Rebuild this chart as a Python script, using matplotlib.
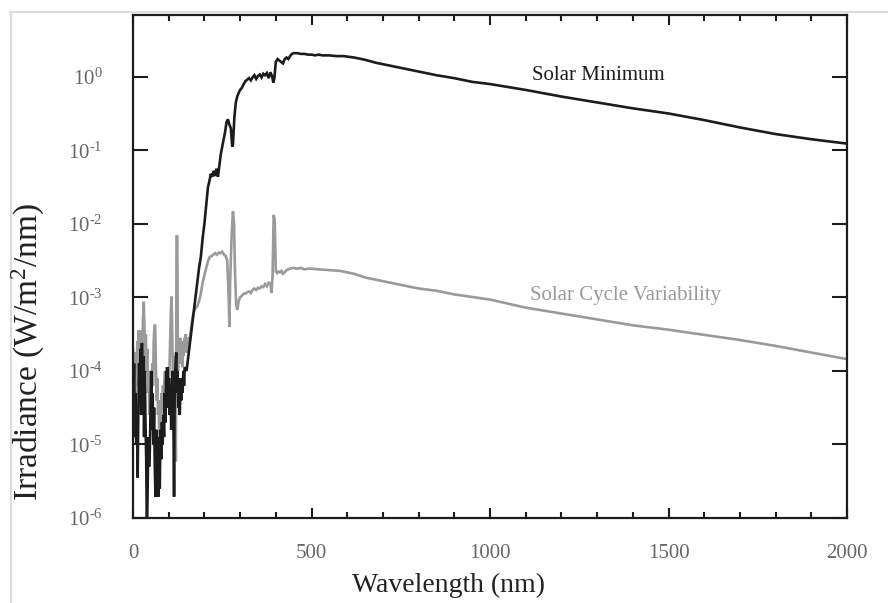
import numpy as np
import matplotlib
matplotlib.use("Agg")
import matplotlib.pyplot as plt
from matplotlib.ticker import FixedLocator, MultipleLocator, FuncFormatter
from matplotlib.lines import Line2D

# ---------------- data ----------------
# Solar Minimum: wavelength (nm) and log10 irradiance (W/m^2/nm)
min_wl = [1, 3, 5, 7, 9, 11, 13, 15, 17, 19, 21, 23, 25, 27, 29, 31, 33, 35, 37, 39,
          41, 43, 45, 47, 49, 51, 53, 55, 57, 59, 61, 63, 65, 67, 69, 71, 73, 75, 77, 79,
          81, 83, 85, 87, 89, 91, 93, 95, 97, 99, 101, 103, 105, 107, 109, 111, 113, 115,
          117, 119, 121, 123, 125, 127, 129, 131, 133, 135, 137, 139, 141, 143, 145, 150,
          155, 160, 165, 170, 175, 180, 185, 190, 195, 200, 205, 210, 214, 218, 222, 226,
          230, 234, 238, 242, 246, 250, 254, 258, 262, 266, 270, 274, 278, 280, 284, 288,
          292, 296, 300, 305, 310, 315, 320, 325, 330, 335, 340, 345, 350, 355, 360, 365,
          370, 375, 380, 385, 390, 393, 396, 400, 405, 410, 415, 420, 425, 430, 435, 440,
          445, 450, 460, 470, 480, 490, 500, 510, 520, 530, 550, 570, 590, 620, 650, 680,
          700, 750, 800, 850, 900, 950, 1000, 1100, 1200, 1300, 1400, 1500, 1600, 1700,
          1800, 1900, 2000]
min_log = [-4.4, -3.9, -4.9, -4.3, -5.0, -4.6, -5.45, -4.5, -3.9, -4.2, -3.7, -4.6, -3.62,
           -4.3, -3.8, -4.9, -4.0, -4.7, -5.2, -6.2, -5.6, -4.9, -5.3, -5.1, -4.6, -4.0,
           -4.8, -4.3, -5.0, -4.5, -5.3, -5.71, -4.8, -5.5, -4.9, -5.71, -5.0, -5.6, -4.8,
           -5.2, -4.7, -5.0, -4.6, -4.9, -4.3, -4.7, -4.0, -4.4, -3.95, -4.5, -4.1, -4.6,
           -4.2, -4.8, -4.3, -4.0, -4.5, -5.71, -4.1, -3.95, -3.75, -4.3, -4.0, -4.5, -4.1,
           -4.6, -4.2, -4.4, -4.1, -4.3, -4.0, -4.2, -3.95, -4.0, -3.8, -3.6, -3.4, -3.2,
           -3.0, -2.8, -2.6, -2.45, -2.2, -2.0, -1.75, -1.5, -1.42, -1.32, -1.36, -1.28,
           -1.35, -1.25, -1.36, -1.2, -1.05, -0.95, -0.85, -0.75, -0.62, -0.58, -0.65, -0.7,
           -0.95, -0.92, -0.55, -0.35, -0.27, -0.22, -0.18, -0.15, -0.1, -0.06, -0.04,
           -0.02, -0.05, -0.01, 0.02, -0.03, 0.01, 0.03, -0.01, 0.04, 0.02, 0.05, -0.02,
           0.06, 0.0, -0.08, -0.02, 0.2, 0.24, 0.22, 0.2, 0.18, 0.24, 0.26, 0.24, 0.28,
           0.31, 0.32, 0.32, 0.31, 0.31, 0.3, 0.30, 0.29, 0.30, 0.29, 0.29, 0.28, 0.28,
           0.26, 0.23, 0.19, 0.17, 0.12, 0.07, 0.02, -0.02, -0.07, -0.10, -0.18, -0.27,
           -0.35, -0.43, -0.50, -0.59, -0.69, -0.78, -0.85, -0.91]

# Solar Cycle Variability: wavelength (nm) and log10 irradiance (W/m^2/nm)
var_wl = [0, 2, 4, 6, 8, 10, 12, 14, 16, 18, 20, 22, 24, 26, 28, 30, 32, 34, 36, 38, 40,
          42, 44, 46, 48, 50, 52, 54, 56, 58, 60, 62, 64, 66, 68, 70, 72, 74, 76, 78, 80,
          82, 84, 86, 88, 90, 92, 94, 96, 98, 100, 102, 104, 106, 108, 110, 112, 114, 116,
          118, 120, 122, 124, 126, 128, 130, 132, 134, 136, 138, 140, 142, 144, 146, 148,
          150, 154, 158, 162, 166, 170, 175, 180, 185, 190, 195, 200, 205, 210, 215, 220,
          225, 230, 235, 240, 245, 250, 255, 260, 264, 268, 270, 272, 276, 280, 283, 286,
          289, 292, 296, 300, 305, 310, 315, 320, 325, 330, 335, 340, 345, 350, 355, 360,
          365, 370, 375, 380, 385, 388, 391, 394, 397, 400, 404, 408, 412, 416, 420, 425,
          430, 440, 450, 460, 470, 480, 490, 500, 520, 550, 580, 620, 650, 700, 750, 800,
          850, 900, 1000, 1100, 1200, 1300, 1400, 1500, 1600, 1700, 1800, 1900, 2000]
var_log = [-3.7, -4.3, -3.8, -4.4, -3.75, -4.2, -3.6, -4.0, -3.45, -3.9, -3.5, -4.1, -3.45,
           -3.8, -3.3, -3.06, -3.4, -3.8, -3.5, -4.0, -3.7, -4.3, -4.0, -4.6, -4.2, -4.8,
           -4.3, -3.9, -4.2, -3.6, -3.4, -3.37, -3.9, -4.4, -4.1, -4.6, -4.4, -5.07, -4.5,
           -4.8, -4.3, -4.6, -4.2, -4.5, -4.1, -4.0, -4.3, -3.95, -4.4, -4.1, -4.5, -4.0,
           -3.6, -3.2, -2.99, -3.5, -4.2, -3.8, -4.4, -4.0, -5.23, -2.17, -2.17, -4.0, -3.6,
           -3.9, -3.55, -3.8, -3.7, -3.95, -3.6, -3.8, -3.55, -3.7, -3.5, -3.75, -3.55,
           -3.6, -3.45, -3.3, -3.2, -3.15, -3.12, -3.05, -2.95, -2.8, -2.7, -2.6, -2.51,
           -2.45, -2.44, -2.42, -2.40, -2.42, -2.39, -2.40, -2.38, -2.42, -2.44, -2.5, -3.0,
           -3.40, -2.8, -2.2, -1.83, -2.0, -2.7, -3.1, -3.17, -3.05, -3.0, -2.98, -2.95,
           -2.95, -2.93, -2.92, -2.94, -2.9, -2.88, -2.9, -2.87, -2.88, -2.85, -2.86, -2.82,
           -2.85, -2.8, -2.81, -2.94, -2.7, -1.88, -1.95, -2.65, -2.67, -2.65, -2.66, -2.64,
           -2.68, -2.66, -2.63, -2.61, -2.60, -2.61, -2.60, -2.62, -2.61, -2.61, -2.62,
           -2.63, -2.64, -2.68, -2.73, -2.78, -2.83, -2.88, -2.91, -2.96, -3.03, -3.14,
           -3.22, -3.30, -3.38, -3.44, -3.51, -3.58, -3.66, -3.75, -3.84]

x_major = [0, 500, 1000, 1500, 2000]
y_major = [1e-6, 1e-5, 1e-4, 1e-3, 1e-2, 1e-1, 1e0]
label_min = "Solar Minimum"
label_var = "Solar Cycle Variability"
xlabel = "Wavelength (nm)"
ylabel = "Irradiance (W/m$^2$/nm)"

# ---------------- style ----------------
plt.rcParams['font.family'] = ['Liberation Serif', 'DejaVu Serif']
plt.rcParams['mathtext.fontset'] = 'custom'
plt.rcParams['mathtext.rm'] = 'Liberation Serif'
plt.rcParams['mathtext.it'] = 'Liberation Serif:italic'
plt.rcParams['mathtext.bf'] = 'Liberation Serif:bold'

W, H = 888, 603
fig = plt.figure(figsize=(W / 100, H / 100), dpi=100)
ax = fig.add_axes([133 / W, 1 - 518 / H, (847 - 133) / W, (518 - 15) / H])

black = '#1c1c1c'
gray = '#9a9a9a'

ax.plot(var_wl, 10 ** np.array(var_log), color=gray, lw=1.9, solid_joinstyle='miter', zorder=2)
ax.plot(min_wl, 10 ** np.array(min_log), color=black, lw=1.9, solid_joinstyle='miter', zorder=3)

ax.set_yscale('log')
ax.set_xlim(0, 2000)
ax.set_ylim(1e-6, 6.9)


def ylab(v, p):
    e = int(round(np.log10(v)))
    if e < 0:
        return r'$10^{\text{-}%d}$' % (-e)
    return r'$10^{%d}$' % e


ax.xaxis.set_major_locator(FixedLocator(x_major))
ax.xaxis.set_minor_locator(MultipleLocator(100))
ax.yaxis.set_major_locator(FixedLocator(y_major))
ax.yaxis.set_minor_locator(FixedLocator([]))
ax.yaxis.set_major_formatter(FuncFormatter(ylab))
ax.xaxis.set_major_formatter(FuncFormatter(lambda v, p: '%d' % v))

ax.tick_params(axis='x', which='major', direction='in', length=7.5, width=1.5,
               top=True, bottom=True, pad=19, labelsize=15, labelcolor='#666666', color=black)
ax.tick_params(axis='x', which='minor', direction='in', length=4, width=1.5,
               top=True, bottom=True, color=black)
ax.tick_params(axis='y', which='major', direction='in', length=11, width=1.5,
               left=True, right=True, pad=22, labelsize=15, labelcolor='#666666', color=black)

for s in ax.spines.values():
    s.set_linewidth(1.6)
    s.set_color(black)

ax.text(1118, 10 ** -0.041, label_min, color=black, fontsize=15, ha='left', va='baseline')
ax.text(1112, 10 ** -3.034, label_var, color=gray, fontsize=15, ha='left', va='baseline')

fig.text(448 / W, 1 - 585 / H, xlabel, fontsize=20, color='#222222', ha='center', va='center')
fig.text(28 / W, 1 - 352 / H, ylabel, fontsize=24, color='#222222', ha='center', va='center',
         rotation=90)

# light gray frame lines (top and left)
fig.add_artist(Line2D([10 / W, 1.0], [1 - 12 / H, 1 - 12 / H], transform=fig.transFigure,
                      color='#dcdcdc', lw=1.6))
fig.add_artist(Line2D([11 / W, 11 / W], [1 - 12 / H, 0.0], transform=fig.transFigure,
                      color='#dcdcdc', lw=1.6))

fig.savefig('out.png', dpi=100)
